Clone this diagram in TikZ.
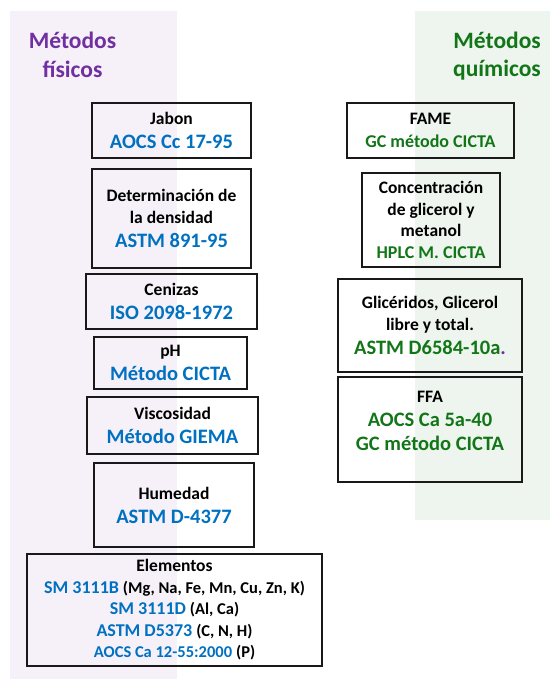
\documentclass[tikz,border=0pt]{standalone}
\usepackage{fontspec}
\setmainfont{Carlito}
\usepackage{xcolor}

\definecolor{moradoM}{RGB}{112,48,160}
\definecolor{verdeM}{RGB}{18,118,24}
\definecolor{azulM}{RGB}{0,112,192}
\definecolor{fondoMorado}{RGB}{246,241,249}
\definecolor{fondoVerde}{RGB}{238,245,238}

\newcommand{\azul}[2][20.5]{{\color{azulM}\fontsize{#1}{24}\selectfont #2}}
\newcommand{\verde}[2][20.5]{{\color{verdeM}\fontsize{#1}{24}\selectfont #2}}
\newcommand{\negro}[2][16.5]{{\fontsize{#1}{24}\selectfont #2}}

\begin{document}
\begin{tikzpicture}[x=1pt, y=-1pt,
  every node/.style={font=\bfseries\fontsize{17.5}{21.5}\selectfont, align=center},
  caja/.style={draw=black!90, line width=1.6pt, inner sep=0pt},
  titulo/.style={font=\bfseries\fontsize{23.5}{28.5}\selectfont, inner sep=0pt}]
  \useasboundingbox (0,0) rectangle (550,679);
  % background panels
  \fill[fondoMorado] (10,11) rectangle (177,679);
  \fill[fondoVerde] (415,11) rectangle (550,520);
  \node[titulo, text=moradoM] (tfisicos) at (72.5,55) {Métodos\\físicos};
  \node[titulo, text=verdeM, align=right, anchor=east] (tquimicos) at (541,56) {Métodos\\químicos};
  % left column: physical methods
  \node[caja, minimum width=159, minimum height=55] (jabon) at (171.5,130.5)
    {Jabon\\[2.5pt]\azul{AOCS Cc 17-95}};
  \node[caja, minimum width=159, minimum height=99] (densidad) at (171.5,218.5)
    {Determinación de\\la densidad\\[2.5pt]\azul{ASTM 891-95}};
  \node[caja, minimum width=171, minimum height=55] (cenizas) at (171.5,301.5)
    {Cenizas\\[2.5pt]\azul{ISO 2098-1972}};
  \node[caja, minimum width=153, minimum height=52] (ph) at (170.5,363)
    {pH\\[2.5pt]\azul{Método CICTA}};
  \node[caja, minimum width=171, minimum height=57] (viscosidad) at (172.5,425.5)
    {Viscosidad\\[2.5pt]\azul{Método GIEMA}};
  \node[caja, minimum width=160, minimum height=84] (humedad) at (174,505)
    {Humedad\\[2.5pt]\azul{ASTM D-4377}};
  \node[caja, minimum width=295, minimum height=112] (elementos) at (174.5,610)
    {Elementos\\
     \azul[18]{SM 3111B} \negro{(Mg, Na, Fe, Mn, Cu, Zn, K)}\\
     \azul[18]{SM 3111D} \negro{(Al, Ca)}\\
     \azul[18]{ASTM D5373} \negro{(C, N, H)}\\
     \azul[16.5]{AOCS Ca 12-55:2000} \negro{(P)}};
  % right column: chemical methods
  \node[caja, minimum width=167, minimum height=55] (fame) at (430.5,130.5)
    {FAME\\[1pt]\verde[18]{GC método CICTA}};
  \node[caja, minimum width=138, minimum height=94] (glicerol) at (431,220)
    {Concentración\\de glicerol y\\metanol\\\verde[18]{HPLC M. CICTA}};
  \node[caja, minimum width=184, minimum height=93] (gliceridos) at (430,325.5)
    {Glicéridos, Glicerol\\libre y total.\\[2.5pt]\verde{ASTM D6584-10a}{\color{moradoM}\fontsize{20.5}{24}\selectfont.}};
  \node[caja, minimum width=184, minimum height=105] (ffa) at (430,429.5) {};
  \node (ffatxt) at (430,421)
    {FFA\\[2.5pt]\verde{AOCS Ca 5a-40}\\[2.5pt]\verde{GC método CICTA}};
\end{tikzpicture}
\end{document}
